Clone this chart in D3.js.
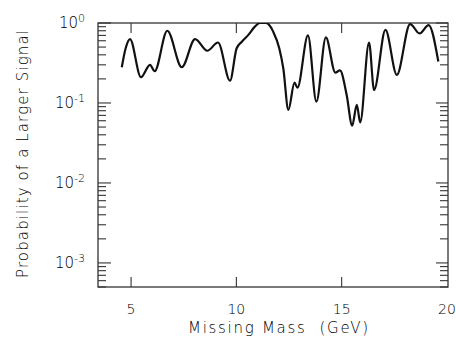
<!DOCTYPE html>
<html><head><meta charset="utf-8">
<script src="https://cdn.jsdelivr.net/npm/d3@7"></script>
<style>
html,body{margin:0;padding:0;background:#fff;}
text{font-family:"DejaVu Sans",sans-serif;fill:#000;}
</style></head>
<body>
<svg id="chart" width="456" height="346"></svg>
<script>
const mass = [4.56,4.74,4.95,5.47,5.90,6.12,6.72,7.41,8.04,8.62,9.13,9.70,10.01,10.25,10.57,10.88,11.12,11.40,11.55,11.75,12.04,12.23,12.47,12.76,12.90,13.40,13.80,14.25,14.70,14.92,15.24,15.50,15.72,15.88,16.30,16.54,17.08,17.62,18.25,18.70,19.13,19.59];
const prob = [0.28,0.48,0.63,0.21,0.30,0.25,0.80,0.28,0.63,0.45,0.57,0.19,0.48,0.58,0.71,0.90,1.0,1.0,0.95,0.78,0.48,0.27,0.082,0.18,0.155,0.70,0.104,0.66,0.24,0.255,0.125,0.052,0.095,0.057,0.57,0.145,0.82,0.225,0.97,0.74,0.94,0.33];
const xTicks = [5,10,15,20];
const yMajor = [1e-3,1e-2,1e-1,1];
const yExp = ["-3","-2","-1","0"];
const xTitle = "Missing Mass\u00a0\u00a0(GeV)";
const yTitle = "Probability of a Larger Signal";

const L=98,R=448,T=23,B=287;
const svg=d3.select("#chart");
const x=d3.scaleLinear().domain([3.43,20.05]).range([L,R]);
const y=d3.scaleLog().domain([5e-4,1]).range([B,T]);

const minor=[];
[-4,-3,-2,-1].forEach(e=>{for(let m=2;m<=9;m++){const v=m*Math.pow(10,e); if(v>=5e-4&&v<1) minor.push(v);}});

const g=svg.append("g");
g.append("rect").attr("x",L).attr("y",T).attr("width",R-L).attr("height",B-T)
 .attr("fill","none").attr("stroke","#333").attr("stroke-width",1.3);

const tk=g.append("g").attr("stroke","#333").attr("stroke-width",1.1);
yMajor.forEach(v=>{
  tk.append("line").attr("x1",L).attr("x2",L+13).attr("y1",y(v)).attr("y2",y(v));
  tk.append("line").attr("x1",R).attr("x2",R-12).attr("y1",y(v)).attr("y2",y(v));
});
minor.forEach(v=>{
  tk.append("line").attr("x1",L).attr("x2",L+8).attr("y1",y(v)).attr("y2",y(v));
  tk.append("line").attr("x1",R).attr("x2",R-8).attr("y1",y(v)).attr("y2",y(v));
});
xTicks.filter(v=>v<20).forEach(v=>{
  tk.append("line").attr("x1",x(v)).attr("x2",x(v)).attr("y1",B).attr("y2",B-10);
  tk.append("line").attr("x1",x(v)).attr("x2",x(v)).attr("y1",T).attr("y2",T+10);
});

xTicks.forEach(v=>{
  g.append("text").attr("x",x(v)).attr("y",314).attr("text-anchor","middle")
   .attr("font-size",14).attr("font-weight",300).text(v);
});
yMajor.forEach((v,i)=>{
  const t=g.append("text").attr("x",85).attr("y",y(v)+5).attr("text-anchor","end")
   .attr("font-size",15).attr("font-weight",300);
  t.append("tspan").text("10");
  t.append("tspan").attr("dy",-6).attr("font-size",11).text(yExp[i]);
});
g.append("text").attr("x",278).attr("y",333).attr("text-anchor","middle")
 .attr("font-size",15).attr("font-weight",300)
 .attr("textLength",180).attr("lengthAdjust","spacing").text(xTitle);
g.append("text").attr("transform","translate(28,154) rotate(-90)").attr("text-anchor","middle")
 .attr("font-size",15).attr("font-weight",300)
 .attr("textLength",248).attr("lengthAdjust","spacing").text(yTitle);

svg.append("clipPath").attr("id","clip").append("rect").attr("x",L).attr("y",T).attr("width",R-L).attr("height",B-T);
const line=d3.line().x((d,i)=>x(mass[i])).y((d,i)=>y(prob[i])).curve(d3.curveMonotoneX);
g.append("path").datum(prob).attr("d",line).attr("fill","none").attr("stroke","#111")
 .attr("stroke-width",2.2).attr("clip-path","url(#clip)");
</script>
</body></html>
